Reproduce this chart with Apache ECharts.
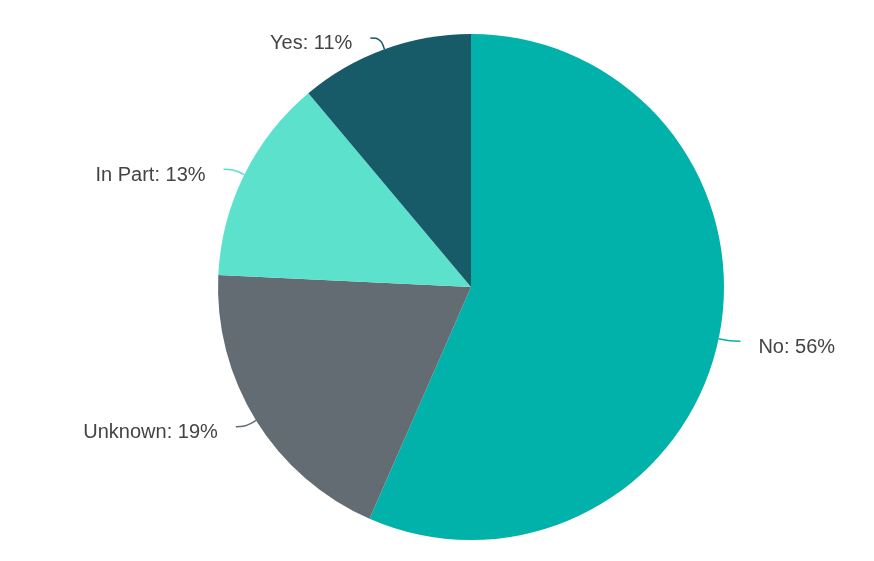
<!DOCTYPE html>
<html>
<head>
<meta charset="utf-8">
<script src="https://cdn.jsdelivr.net/npm/echarts@6/dist/echarts.min.js"></script>
<style>html,body{margin:0;padding:0;background:#fff}#c{width:874px;height:561px}</style>
</head>
<body>
<div id="c"></div>
<script>
const categories = ['No', 'Unknown', 'In Part', 'Yes'];
const values = [56, 19, 13, 11];
const colors = ['#01B2AA', '#636C73', '#5CE1CD', '#175A68'];

const chart = echarts.init(document.getElementById('c'));
chart.setOption({
  animation: false,
  series: [{
    type: 'pie',
    center: [471, 287],
    radius: 253,
    startAngle: 90,
    clockwise: true,
    data: categories.map((n, i) => ({ name: n, value: values[i], itemStyle: { color: colors[i] } })),
    label: {
      formatter: '{b}: {c}%',
      fontFamily: 'Liberation Sans, Arial, sans-serif',
      fontSize: 20,
      color: '#444',
      distanceToLabelLine: 18
    },
    labelLayout: { dy: 6 },
    labelLine: {
      show: true,
      length: 12,
      length2: 10,
      smooth: 0.4,
      lineStyle: { width: 1.5 }
    },
    itemStyle: { borderWidth: 0 }
  }]
});
</script>
</body>
</html>
